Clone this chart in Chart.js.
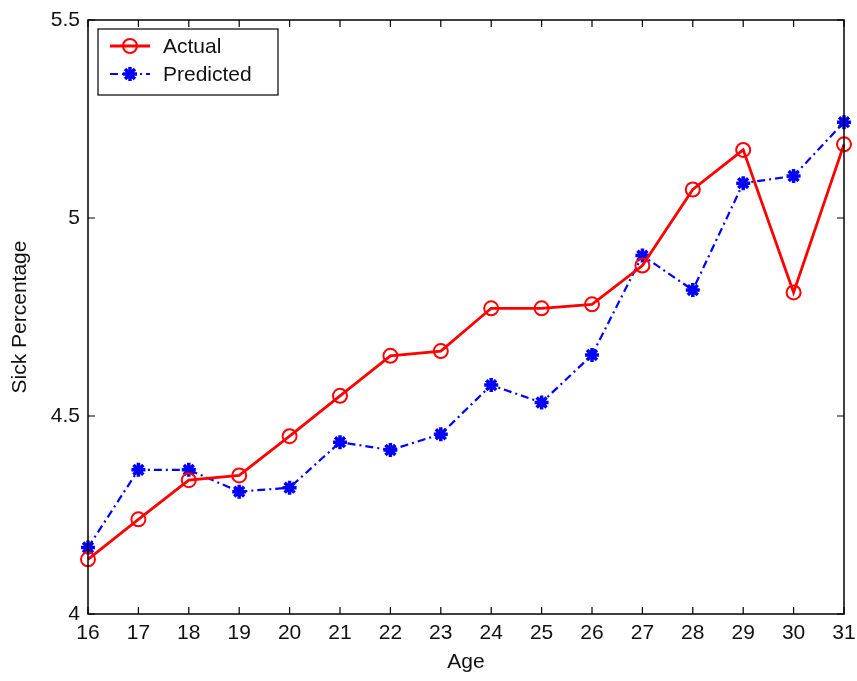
<!DOCTYPE html>
<html>
<head>
<meta charset="utf-8">
<script src="https://cdn.jsdelivr.net/npm/chart.js@4.4.1/dist/chart.umd.min.js"></script>
<style>
html,body{margin:0;padding:0;background:#fff;}
#wrap{width:857px;height:681px;position:relative;}
</style>
</head>
<body>
<div id="wrap"><canvas id="c" width="857" height="681"></canvas></div>
<script>
const ages = ['16','17','18','19','20','21','22','23','24','25','26','27','28','29','30','31'];
const actual = [4.138,4.239,4.338,4.350,4.449,4.551,4.652,4.664,4.772,4.772,4.782,4.880,5.072,5.172,4.812,5.186];
const predicted = [4.168,4.364,4.364,4.309,4.319,4.434,4.414,4.454,4.578,4.534,4.654,4.905,4.818,5.088,5.106,5.242];
const yTicks = [4, 4.5, 5, 5.5];
const xTitle = 'Age';
const yTitle = 'Sick Percentage';
const seriesNames = ['Actual','Predicted'];

const FONT = '"Liberation Sans", Arial, sans-serif';
const FS = 21;

const boxPlugin = {
  id: 'boxPlugin',
  afterDatasetsDraw(chart) {
    const {ctx, chartArea: a, scales} = chart;
    ctx.save();
    ctx.strokeStyle = '#000';
    ctx.lineWidth = 1.5;
    ctx.strokeRect(a.left, a.top, a.right - a.left, a.bottom - a.top);
    ctx.lineWidth = 1.2;
    const tl = 7;
    ctx.beginPath();
    scales.x.ticks.forEach((t, i) => {
      const px = scales.x.getPixelForTick(i);
      ctx.moveTo(px, a.bottom); ctx.lineTo(px, a.bottom - tl);
      ctx.moveTo(px, a.top); ctx.lineTo(px, a.top + tl);
    });
    yTicks.forEach(v => {
      const py = scales.y.getPixelForValue(v);
      ctx.moveTo(a.left, py); ctx.lineTo(a.left + tl, py);
      ctx.moveTo(a.right, py); ctx.lineTo(a.right - tl, py);
    });
    ctx.stroke();

    // legend
    const lx = 98, ly = 29, lw = 180, lh = 66;
    ctx.fillStyle = '#fff';
    ctx.fillRect(lx, ly, lw, lh);
    ctx.strokeStyle = '#000';
    ctx.lineWidth = 1.2;
    ctx.strokeRect(lx, ly, lw, lh);
    const ds = chart.data.datasets;
    const rows = [46, 74];
    ds.forEach((d, i) => {
      const y = rows[i];
      ctx.save();
      ctx.strokeStyle = d.borderColor;
      ctx.lineWidth = d.borderWidth;
      ctx.setLineDash(d.borderDash || []);
      ctx.beginPath();
      ctx.moveTo(110, y); ctx.lineTo(150, y);
      ctx.stroke();
      ctx.restore();
      ctx.save();
      ctx.strokeStyle = d.pointBorderColor;
      ctx.fillStyle = d.pointBackgroundColor;
      ctx.lineWidth = d.pointBorderWidth;
      ctx.setLineDash([]);
      Chart.helpers.drawPoint(ctx, {
        pointStyle: d.pointStyle, radius: d.pointRadius, borderWidth: d.pointBorderWidth, rotation: 0
      }, 130, y);
      ctx.restore();
      ctx.fillStyle = '#111';
      ctx.font = FS + 'px ' + FONT;
      ctx.textBaseline = 'middle';
      ctx.textAlign = 'left';
      ctx.fillText(seriesNames[i], 163, y + 1);
    });
    ctx.restore();
  }
};

new Chart(document.getElementById('c'), {
  type: 'line',
  data: {
    labels: ages,
    datasets: [
      {
        label: seriesNames[0],
        data: actual,
        borderColor: '#ff0000',
        borderWidth: 2.8,
        pointStyle: 'circle',
        pointRadius: 7,
        pointBorderWidth: 2,
        pointBorderColor: '#ff0000',
        pointBackgroundColor: 'rgba(0,0,0,0)',
        tension: 0,
        fill: false
      },
      {
        label: seriesNames[1],
        data: predicted,
        borderColor: '#0000ff',
        borderWidth: 2.2,
        borderDash: [8, 4, 2, 4],
        pointStyle: 'star',
        pointRadius: 7,
        pointBorderWidth: 3.5,
        pointBorderColor: '#0000ff',
        pointBackgroundColor: '#0000ff',
        tension: 0,
        fill: false
      }
    ]
  },
  options: {
    responsive: false,
    animation: false,
    layout: { padding: { left: 8, right: 13, top: 20, bottom: 0 } },
    plugins: { legend: { display: false }, tooltip: { enabled: false } },
    scales: {
      x: {
        type: 'category',
        offset: false,
        grid: { display: false, drawTicks: false },
        border: { display: false },
        ticks: { color: '#111', font: { family: FONT, size: FS }, padding: 7, maxRotation: 0, autoSkip: false },
        title: { display: true, text: xTitle, color: '#111', font: { family: FONT, size: FS }, padding: { top: 0, bottom: 6 } },
        afterFit(s) { s.height = 67; s.paddingLeft = 0; s.paddingRight = 0; }
      },
      y: {
        min: 4, max: 5.5,
        afterBuildTicks(s) { s.ticks = yTicks.map(v => ({ value: v })); },
        grid: { display: false, drawTicks: false },
        border: { display: false },
        ticks: { color: '#111', font: { family: FONT, size: FS }, padding: 8,
          callback: v => String(v) },
        title: { display: true, text: yTitle, color: '#111', font: { family: FONT, size: FS }, padding: { top: 0, bottom: 4 } },
        afterFit(s) { s.width = 80; s.paddingTop = 0; s.paddingBottom = 0; }
      }
    }
  },
  plugins: [boxPlugin]
});
</script>
</body>
</html>
